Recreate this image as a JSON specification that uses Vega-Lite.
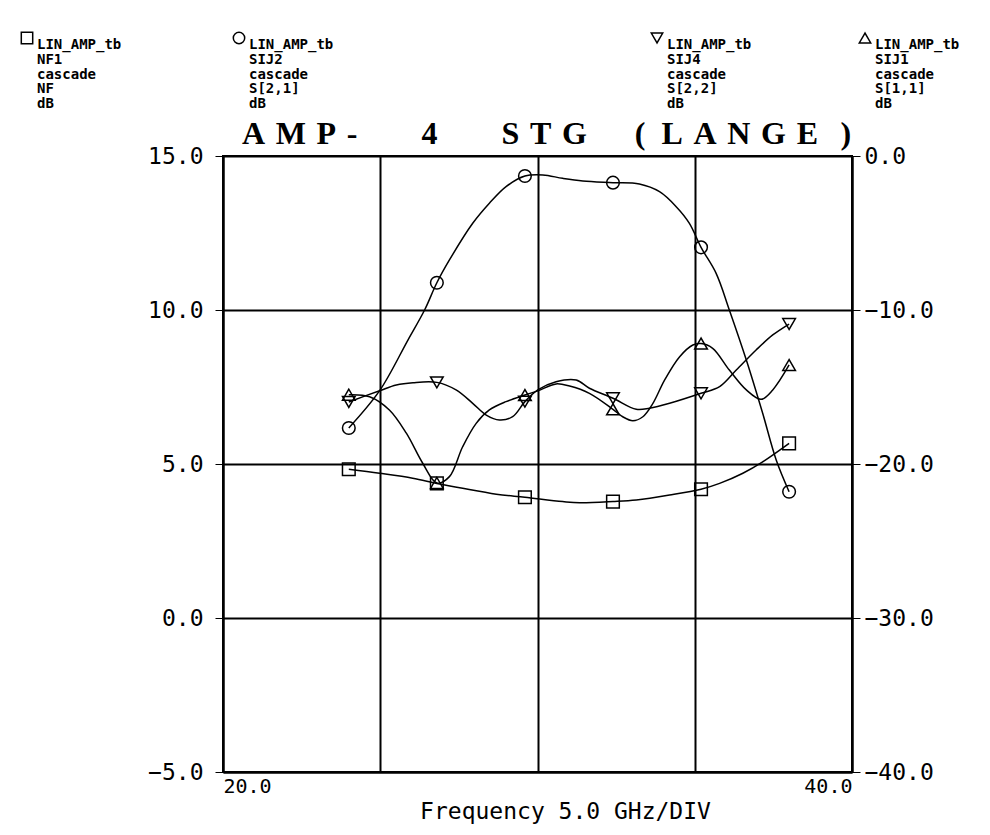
{
  "$schema": "https://vega.github.io/schema/vega-lite/v6.json",
  "width": 629,
  "height": 616,
  "autosize": {"type": "none"},
  "padding": {"left": 223, "top": 156, "right": 138, "bottom": 63},
  "background": "white",
  "title": {
    "text": "A\u2004M\u2004P\u2004-\u2003\u20034\u2003\u2003S\u2004T\u2004G\u2003\u2002(\u2002L\u2004A\u2004N\u2004G\u2004E\u2002\u2009)",
    "font": "Liberation Serif",
    "fontSize": 32,
    "fontWeight": "bold",
    "color": "black",
    "anchor": "middle",
    "baseline": "alphabetic",
    "offset": -145,
    "dx": 9
  },
  "config": {
    "view": {"stroke": "black", "strokeWidth": 2},
    "style": {"guide-label": {"lineHeight": 14.75}},
    "axis": {
      "labelFont": "DejaVu Sans Mono",
      "labelColor": "black",
      "titleColor": "black",
      "domainColor": "black",
      "tickColor": "black",
      "gridColor": "black",
      "gridOpacity": 1
    },
    "legend": {
      "labelFont": "DejaVu Sans Mono",
      "labelFontSize": 14,
      "labelFontWeight": "bold",
      "labelColor": "black",
      "labelBaseline": "top",
      "symbolStrokeColor": "black",
      "symbolFillColor": "white",
      "symbolStrokeWidth": 1.5,
      "symbolSize": 130,
      "padding": 0,
      "labelOffset": 3,
      "labelLimit": 0
    }
  },
  "data": {
    "values": [
      {"series": "NF", "freq": 24.0, "value": 4.83, "m": 1, "label": "LIN_AMP_tb|NF1|cascade|NF|dB"},
      {"series": "NF", "freq": 24.98, "value": 4.70, "m": 0},
      {"series": "NF", "freq": 26.03, "value": 4.54, "m": 0},
      {"series": "NF", "freq": 26.8, "value": 4.37, "m": 1, "label": "LIN_AMP_tb|NF1|cascade|NF|dB"},
      {"series": "NF", "freq": 27.62, "value": 4.21, "m": 0},
      {"series": "NF", "freq": 28.69, "value": 4.02, "m": 0},
      {"series": "NF", "freq": 29.6, "value": 3.92, "m": 1, "label": "LIN_AMP_tb|NF1|cascade|NF|dB"},
      {"series": "NF", "freq": 30.8, "value": 3.78, "m": 0},
      {"series": "NF", "freq": 31.34, "value": 3.74, "m": 0},
      {"series": "NF", "freq": 32.4, "value": 3.78, "m": 1, "label": "LIN_AMP_tb|NF1|cascade|NF|dB"},
      {"series": "NF", "freq": 33.14, "value": 3.83, "m": 0},
      {"series": "NF", "freq": 34.2, "value": 3.99, "m": 0},
      {"series": "NF", "freq": 35.2, "value": 4.18, "m": 1, "label": "LIN_AMP_tb|NF1|cascade|NF|dB"},
      {"series": "NF", "freq": 35.79, "value": 4.37, "m": 0},
      {"series": "NF", "freq": 36.53, "value": 4.70, "m": 0},
      {"series": "NF", "freq": 37.16, "value": 5.07, "m": 0},
      {"series": "NF", "freq": 38.0, "value": 5.67, "m": 1, "label": "LIN_AMP_tb|NF1|cascade|NF|dB"},

      {"series": "S21", "freq": 24.0, "value": -17.66, "m": 1, "label": "LIN_AMP_tb|SIJ2|cascade|S[2,1]|dB"},
      {"series": "S21", "freq": 24.98, "value": -15.24, "m": 0},
      {"series": "S21", "freq": 25.88, "value": -11.95, "m": 0},
      {"series": "S21", "freq": 26.41, "value": -10.0, "m": 0},
      {"series": "S21", "freq": 26.8, "value": -8.23, "m": 1, "label": "LIN_AMP_tb|SIJ2|cascade|S[2,1]|dB"},
      {"series": "S21", "freq": 27.2, "value": -6.75, "m": 0},
      {"series": "S21", "freq": 27.94, "value": -4.37, "m": 0},
      {"series": "S21", "freq": 28.47, "value": -3.07, "m": 0},
      {"series": "S21", "freq": 29.0, "value": -1.99, "m": 0},
      {"series": "S21", "freq": 29.6, "value": -1.30, "m": 1, "label": "LIN_AMP_tb|SIJ2|cascade|S[2,1]|dB"},
      {"series": "S21", "freq": 30.17, "value": -1.23, "m": 0},
      {"series": "S21", "freq": 30.8, "value": -1.45, "m": 0},
      {"series": "S21", "freq": 31.44, "value": -1.62, "m": 0},
      {"series": "S21", "freq": 32.4, "value": -1.73, "m": 1, "label": "LIN_AMP_tb|SIJ2|cascade|S[2,1]|dB"},
      {"series": "S21", "freq": 33.24, "value": -1.82, "m": 0},
      {"series": "S21", "freq": 33.88, "value": -2.32, "m": 0},
      {"series": "S21", "freq": 34.41, "value": -3.29, "m": 0},
      {"series": "S21", "freq": 34.83, "value": -4.37, "m": 0},
      {"series": "S21", "freq": 35.2, "value": -5.93, "m": 1, "label": "LIN_AMP_tb|SIJ2|cascade|S[2,1]|dB"},
      {"series": "S21", "freq": 35.68, "value": -7.62, "m": 0},
      {"series": "S21", "freq": 36.1, "value": -10.0, "m": 0},
      {"series": "S21", "freq": 36.64, "value": -13.25, "m": 0},
      {"series": "S21", "freq": 37.16, "value": -16.71, "m": 0},
      {"series": "S21", "freq": 37.59, "value": -19.74, "m": 0},
      {"series": "S21", "freq": 38.0, "value": -21.8, "m": 1, "label": "LIN_AMP_tb|SIJ2|cascade|S[2,1]|dB"},

      {"series": "S22", "freq": 24.0, "value": -15.97, "m": 1, "label": "LIN_AMP_tb|SIJ4|cascade|S[2,2]|dB"},
      {"series": "S22", "freq": 24.98, "value": -15.24, "m": 0},
      {"series": "S22", "freq": 25.51, "value": -14.87, "m": 0},
      {"series": "S22", "freq": 26.04, "value": -14.72, "m": 0},
      {"series": "S22", "freq": 26.8, "value": -14.7, "m": 1, "label": "LIN_AMP_tb|SIJ4|cascade|S[2,2]|dB"},
      {"series": "S22", "freq": 27.41, "value": -15.19, "m": 0},
      {"series": "S22", "freq": 27.94, "value": -16.06, "m": 0},
      {"series": "S22", "freq": 28.37, "value": -16.82, "m": 0},
      {"series": "S22", "freq": 28.79, "value": -17.14, "m": 0},
      {"series": "S22", "freq": 29.21, "value": -16.93, "m": 0},
      {"series": "S22", "freq": 29.6, "value": -15.95, "m": 1, "label": "LIN_AMP_tb|SIJ4|cascade|S[2,2]|dB"},
      {"series": "S22", "freq": 30.01, "value": -15.19, "m": 0},
      {"series": "S22", "freq": 30.59, "value": -14.66, "m": 0},
      {"series": "S22", "freq": 31.23, "value": -14.55, "m": 0},
      {"series": "S22", "freq": 31.65, "value": -15.08, "m": 0},
      {"series": "S22", "freq": 32.4, "value": -15.73, "m": 1, "label": "LIN_AMP_tb|SIJ4|cascade|S[2,2]|dB"},
      {"series": "S22", "freq": 33.14, "value": -16.45, "m": 0},
      {"series": "S22", "freq": 33.56, "value": -16.38, "m": 0},
      {"series": "S22", "freq": 34.2, "value": -16.06, "m": 0},
      {"series": "S22", "freq": 35.2, "value": -15.41, "m": 1, "label": "LIN_AMP_tb|SIJ4|cascade|S[2,2]|dB"},
      {"series": "S22", "freq": 35.79, "value": -14.98, "m": 0},
      {"series": "S22", "freq": 36.32, "value": -13.9, "m": 0},
      {"series": "S22", "freq": 36.95, "value": -12.6, "m": 0},
      {"series": "S22", "freq": 37.48, "value": -11.62, "m": 0},
      {"series": "S22", "freq": 38.0, "value": -10.91, "m": 1, "label": "LIN_AMP_tb|SIJ4|cascade|S[2,2]|dB"},

      {"series": "S11", "freq": 24.0, "value": -15.5, "m": 1, "label": "LIN_AMP_tb|SIJ1|cascade|S[1,1]|dB"},
      {"series": "S11", "freq": 24.66, "value": -15.63, "m": 0},
      {"series": "S11", "freq": 25.29, "value": -16.49, "m": 0},
      {"series": "S11", "freq": 25.83, "value": -18.0, "m": 0},
      {"series": "S11", "freq": 26.35, "value": -19.95, "m": 0},
      {"series": "S11", "freq": 26.8, "value": -21.23, "m": 1, "label": "LIN_AMP_tb|SIJ1|cascade|S[1,1]|dB"},
      {"series": "S11", "freq": 27.2, "value": -20.82, "m": 0},
      {"series": "S11", "freq": 27.62, "value": -18.88, "m": 0},
      {"series": "S11", "freq": 28.05, "value": -17.36, "m": 0},
      {"series": "S11", "freq": 28.47, "value": -16.49, "m": 0},
      {"series": "S11", "freq": 29.0, "value": -15.95, "m": 0},
      {"series": "S11", "freq": 29.6, "value": -15.52, "m": 1, "label": "LIN_AMP_tb|SIJ1|cascade|S[1,1]|dB"},
      {"series": "S11", "freq": 30.01, "value": -15.25, "m": 0},
      {"series": "S11", "freq": 30.59, "value": -14.8, "m": 0},
      {"series": "S11", "freq": 31.02, "value": -14.94, "m": 0},
      {"series": "S11", "freq": 31.65, "value": -15.41, "m": 0},
      {"series": "S11", "freq": 32.4, "value": -16.45, "m": 1, "label": "LIN_AMP_tb|SIJ1|cascade|S[1,1]|dB"},
      {"series": "S11", "freq": 32.71, "value": -16.93, "m": 0},
      {"series": "S11", "freq": 33.03, "value": -17.19, "m": 0},
      {"series": "S11", "freq": 33.35, "value": -16.93, "m": 0},
      {"series": "S11", "freq": 33.67, "value": -16.06, "m": 0},
      {"series": "S11", "freq": 34.04, "value": -14.55, "m": 0},
      {"series": "S11", "freq": 34.52, "value": -13.03, "m": 0},
      {"series": "S11", "freq": 34.94, "value": -12.27, "m": 0},
      {"series": "S11", "freq": 35.2, "value": -12.18, "m": 1, "label": "LIN_AMP_tb|SIJ1|cascade|S[1,1]|dB"},
      {"series": "S11", "freq": 35.57, "value": -12.49, "m": 0},
      {"series": "S11", "freq": 36.1, "value": -13.9, "m": 0},
      {"series": "S11", "freq": 36.64, "value": -15.19, "m": 0},
      {"series": "S11", "freq": 37.11, "value": -15.8, "m": 0},
      {"series": "S11", "freq": 37.48, "value": -15.19, "m": 0},
      {"series": "S11", "freq": 38.0, "value": -13.57, "m": 1, "label": "LIN_AMP_tb|SIJ1|cascade|S[1,1]|dB"}
    ]
  },
  "encoding": {
    "x": {
      "field": "freq",
      "type": "quantitative",
      "scale": {"domain": [20, 40], "nice": false, "zero": false},
      "axis": {
        "values": [20, 25, 30, 35, 40],
        "grid": true,
        "gridWidth": 2,
        "labelExpr": "datum.value == 20 || datum.value == 40 ? format(datum.value, '.1f') : ''",
        "labelFlush": true,
        "labelFontSize": 20,
        "ticks": false,
        "domainWidth": 2,
        "labelPadding": 4,
        "title": "Frequency 5.0 GHz/DIV",
        "titleFont": "DejaVu Sans Mono",
        "titleFontSize": 23,
        "titleFontWeight": "normal",
        "titlePadding": 4,
        "titleX": 342
      }
    }
  },
  "layer": [
    {
      "transform": [{"filter": "datum.series == 'NF'"}],
      "mark": {"type": "line", "interpolate": "catmull-rom", "color": "black", "strokeWidth": 1.5},
      "encoding": {
        "y": {
          "field": "value", "type": "quantitative",
          "scale": {"domain": [-5, 15], "nice": false, "zero": false},
          "axis": {
            "orient": "left", "values": [-5, 0, 5, 10, 15], "format": ".1f",
            "grid": true, "gridWidth": 2, "domainWidth": 2, "tickSize": 8,
            "labelFontSize": 23, "labelPadding": 12, "title": null
          }
        }
      }
    },
    {
      "transform": [{"filter": "datum.series == 'NF' && datum.m == 1"}],
      "mark": {"type": "point", "filled": false, "color": "black", "strokeWidth": 1.5, "size": 160, "opacity": 1},
      "encoding": {
        "y": {"field": "value", "type": "quantitative", "scale": {"domain": [-5, 15], "nice": false, "zero": false}, "axis": null},
        "shape": {
          "field": "label", "type": "nominal", "scale": {"range": ["square"]},
          "legend": {"orient": "none", "legendX": -203, "legendY": -125, "title": null, "labelExpr": "split(datum.label, '|')"}
        }
      }
    },
    {
      "transform": [{"filter": "datum.series == 'S21'"}],
      "mark": {"type": "line", "interpolate": "catmull-rom", "color": "black", "strokeWidth": 1.5},
      "encoding": {
        "y": {
          "field": "value", "type": "quantitative",
          "scale": {"domain": [-40, 0], "nice": false, "zero": false},
          "axis": {
            "orient": "right", "values": [-40, -30, -20, -10, 0], "format": ".1f",
            "grid": false, "domainWidth": 2, "tickSize": 8,
            "labelFontSize": 23, "labelPadding": 4, "title": null
          }
        }
      }
    },
    {
      "transform": [{"filter": "datum.series == 'S21' && datum.m == 1"}],
      "mark": {"type": "point", "filled": false, "color": "black", "strokeWidth": 1.5, "size": 160, "opacity": 1},
      "encoding": {
        "y": {"field": "value", "type": "quantitative", "scale": {"domain": [-40, 0], "nice": false, "zero": false}, "axis": null},
        "shape": {
          "field": "label", "type": "nominal", "scale": {"range": ["circle"]},
          "legend": {"orient": "none", "legendX": 9, "legendY": -125, "title": null, "labelExpr": "split(datum.label, '|')"}
        }
      }
    },
    {
      "transform": [{"filter": "datum.series == 'S22'"}],
      "mark": {"type": "line", "interpolate": "catmull-rom", "color": "black", "strokeWidth": 1.5},
      "encoding": {
        "y": {"field": "value", "type": "quantitative", "scale": {"domain": [-40, 0], "nice": false, "zero": false}, "axis": null}
      }
    },
    {
      "transform": [{"filter": "datum.series == 'S22' && datum.m == 1"}],
      "mark": {"type": "point", "filled": false, "color": "black", "strokeWidth": 1.5, "size": 160, "opacity": 1},
      "encoding": {
        "y": {"field": "value", "type": "quantitative", "scale": {"domain": [-40, 0], "nice": false, "zero": false}, "axis": null},
        "shape": {
          "field": "label", "type": "nominal", "scale": {"range": ["triangle-down"]},
          "legend": {"orient": "none", "legendX": 427, "legendY": -125, "title": null, "labelExpr": "split(datum.label, '|')"}
        }
      }
    },
    {
      "transform": [{"filter": "datum.series == 'S11'"}],
      "mark": {"type": "line", "interpolate": "catmull-rom", "color": "black", "strokeWidth": 1.5},
      "encoding": {
        "y": {"field": "value", "type": "quantitative", "scale": {"domain": [-40, 0], "nice": false, "zero": false}, "axis": null}
      }
    },
    {
      "transform": [{"filter": "datum.series == 'S11' && datum.m == 1"}],
      "mark": {"type": "point", "filled": false, "color": "black", "strokeWidth": 1.5, "size": 160, "opacity": 1},
      "encoding": {
        "y": {"field": "value", "type": "quantitative", "scale": {"domain": [-40, 0], "nice": false, "zero": false}, "axis": null},
        "shape": {
          "field": "label", "type": "nominal", "scale": {"range": ["triangle-up"]},
          "legend": {"orient": "none", "legendX": 635, "legendY": -125, "title": null, "labelExpr": "split(datum.label, '|')"}
        }
      }
    }
  ],
  "resolve": {
    "scale": {"y": "independent", "shape": "independent"},
    "legend": {"shape": "independent"}
  }
}
